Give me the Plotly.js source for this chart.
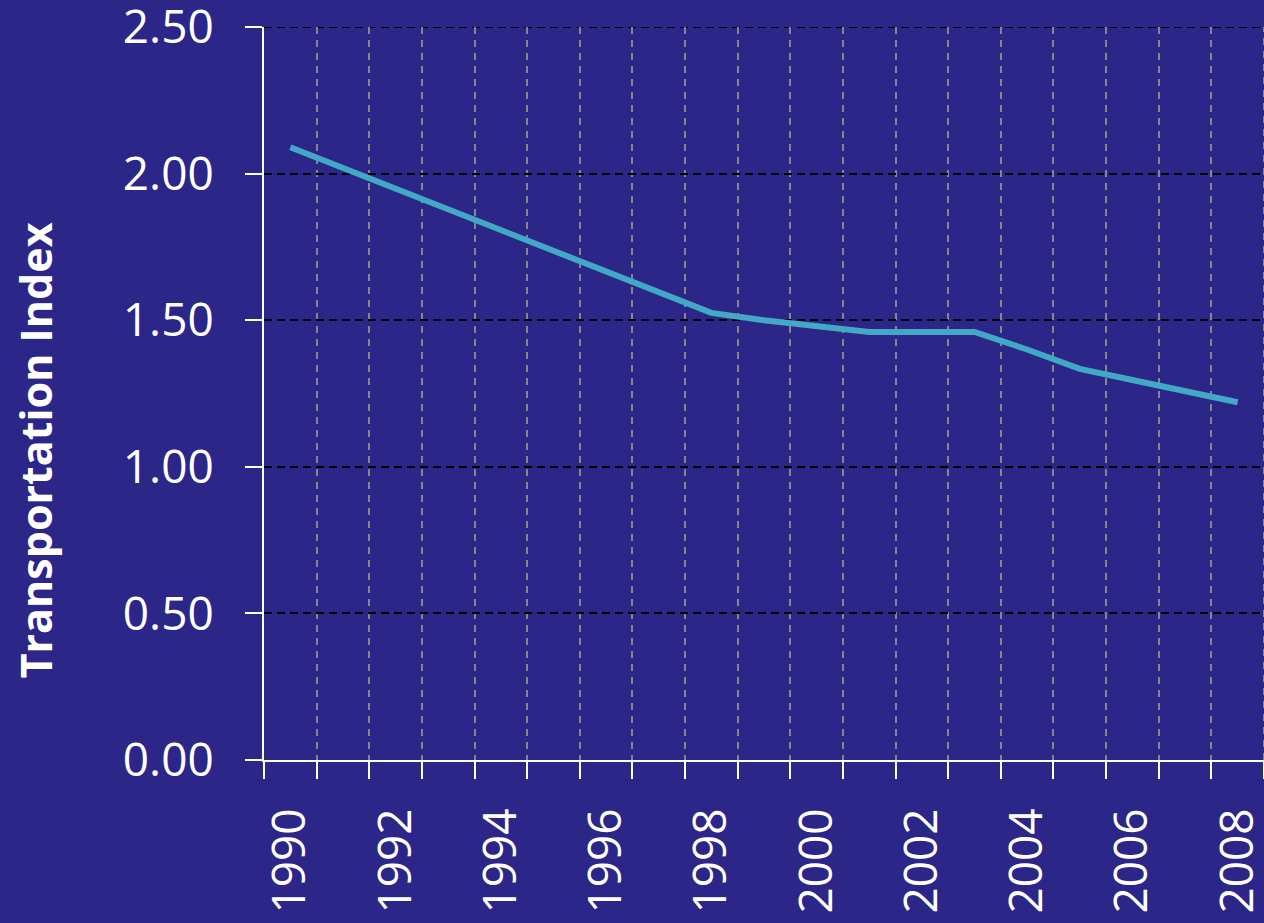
<!DOCTYPE html>
<html>
<head>
<meta charset="utf-8">
<script src="https://cdn.plot.ly/plotly-3.0.1.min.js"></script>
<style>html,body{margin:0;padding:0;background:#2b2688;}#chart{width:1264px;height:923px;}</style>
</head>
<body>
<div id="chart"></div>
<script>
const years = [1990,1991,1992,1993,1994,1995,1996,1997,1998,1999,2000,2001,2002,2003,2004,2005,2006,2007,2008];
const transportIndex = [2.09,2.02,1.95,1.88,1.81,1.74,1.67,1.60,1.525,1.50,1.48,1.46,1.46,1.46,1.40,1.334,1.296,1.258,1.22];
const yTicks = [0,0.5,1,1.5,2,2.5];
const yTickLabels = ["0.00","0.50","1.00","1.50","2.00","2.50"];
const xTickYears = [1990,1992,1994,1996,1998,2000,2002,2004,2006,2008];
const yTitle = 'Transportation Index';

const bg = '#2b2688';
const xMin = years[0]-0.5, xMax = years[years.length-1]+0.5;
const yMax = yTicks[yTicks.length-1];

const trace = {
  x: years, y: transportIndex, type: 'scatter', mode: 'lines',
  line: {color: '#41a8c6', width: 6},
  hoverinfo: 'x+y'
};
const layout = {
  width: 1264, height: 923,
  paper_bgcolor: bg, plot_bgcolor: bg,
  margin: {l: 264, r: 0, t: 27, b: 163},
  showlegend: false,
  font: {family: '"Open Sans", sans-serif', color: '#ffffff'},
  xaxis: {
    range: [xMin, xMax],
    tickmode: 'array', tickvals: xTickYears, ticktext: xTickYears.map(String),
    tickangle: -90, ticks: '', showgrid: false, zeroline: false,
    tickfont: {size: 46, color: '#ffffff'},
    ticklabelstandoff: 28, ticklabeloverflow: 'allow',
    showline: true, linecolor: '#ffffff', linewidth: 2,
    minor: {tickmode: 'linear', tick0: xMin, dtick: 1, ticks: 'outside', ticklen: 17, tickwidth: 2, tickcolor: '#ffffff',
            showgrid: true, gridcolor: '#868686', griddash: '7px,6px', gridwidth: 2},
    automargin: false
  },
  yaxis: {
    range: [0, yMax], tickmode: 'array', tickvals: yTicks, ticktext: yTickLabels,
    ticks: 'outside', ticklen: 17, tickwidth: 2, tickcolor: '#ffffff',
    tickfont: {size: 46, color: '#ffffff'},
    ticklabelstandoff: 22, ticklabeloverflow: 'allow',
    showline: true, linecolor: '#ffffff', linewidth: 2,
    showgrid: true, gridcolor: '#000000', griddash: '8px,5px', gridwidth: 2,
    zeroline: false,
    automargin: false
  },
  shapes: [
    {type: 'line', xref: 'paper', x0: 0, x1: 1, yref: 'y', y0: yMax, y1: yMax,
     line: {color: '#000000', width: 2, dash: '8px,5px'}, layer: 'below'},
    {type: 'line', xref: 'x', x0: xMax, x1: xMax, yref: 'paper', y0: 0, y1: 1,
     line: {color: '#868686', width: 2, dash: '7px,6px'}, layer: 'below'}
  ],
  annotations: [
    {text: '<b>' + yTitle + '</b>', xref: 'paper', yref: 'paper', x: -0.229, y: 0.4225,
     xanchor: 'center', yanchor: 'middle', textangle: -90, showarrow: false,
     font: {size: 43, color: '#ffffff', family: '"Open Sans", sans-serif'}}
  ]
};
Plotly.newPlot('chart', [trace], layout, {displayModeBar: false, staticPlot: true});
</script>
</body>
</html>
